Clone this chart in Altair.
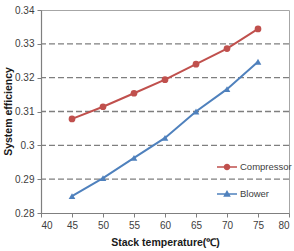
import altair as alt
import pandas as pd

# Stack temperature (deg C) and system efficiency for each cooling option
temps = [45, 50, 55, 60, 65, 70, 75]
compressor = [0.3078, 0.3114, 0.3154, 0.3194, 0.3240, 0.3286, 0.3344]
blower = [0.2850, 0.2903, 0.2963, 0.3022, 0.3100, 0.3166, 0.3247]
series = ["Compressor", "Blower"]
colors = ["#C0504D", "#4F81BD"]
grid_vals = [0.29, 0.30, 0.31, 0.32, 0.33]
y_ticks = [0.28, 0.29, 0.30, 0.31, 0.32, 0.33, 0.34]
x_ticks = [40, 45, 50, 55, 60, 65, 70, 75, 80]

rows = []
for t, c, b in zip(temps, compressor, blower):
    rows.append({"temp": t, "eff": c, "series": "Compressor"})
    rows.append({"temp": t, "eff": b, "series": "Blower"})
df = pd.DataFrame(rows)

FONT = "Liberation Sans"

x_enc = alt.X(
    "temp:Q",
    scale=alt.Scale(domain=[40, 80], nice=False, zero=False),
    axis=alt.Axis(
        values=x_ticks, format="d", title="Stack temperature(℃)",
        grid=False, tickSize=4, labelPadding=3, titlePadding=7,
    ),
)
y_enc = alt.Y(
    "eff:Q",
    scale=alt.Scale(domain=[0.28, 0.34], nice=False, zero=False),
    axis=alt.Axis(
        values=y_ticks, format=".2~f", title="System efficiency",
        grid=False, tickSize=4, labelPadding=3,
        titleX=-28, titleY=101,
    ),
)
color_scale = alt.Scale(domain=series, range=colors)

# Dashed horizontal grid between the bottom axis and the top frame
grid = alt.Chart(pd.DataFrame({"eff": grid_vals})).mark_rule(
    color="#7F7F7F", strokeDash=[6, 3], strokeWidth=1.4
).encode(y=y_enc)

lines = alt.Chart(df).mark_line(strokeWidth=2).encode(
    x=x_enc, y=y_enc,
    color=alt.Color("series:N", scale=color_scale, legend=None),
)

points = alt.Chart(df).mark_point(filled=True, opacity=1, size=45).encode(
    x=x_enc, y=y_enc,
    color=alt.Color("series:N", scale=color_scale, legend=None),
    shape=alt.Shape("series:N", scale=alt.Scale(domain=series, range=["circle", "triangle-up"]), legend=None),
)

# Legend symbols: a short line segment with the series marker on it
circle_path = "M-1,-0.07H1V0.07H-1Z M0.33,0A0.33,0.33 0 1,1 -0.33,0A0.33,0.33 0 1,1 0.33,0Z"
tri_path = "M-1,-0.07H1V0.07H-1Z M0,-0.4L0.38,0.28L-0.38,0.28Z"

legend_opts = dict(
    title=None, orient="none", legendX=175, legendY=146,
    symbolSize=400, rowPadding=11, labelOffset=2, padding=0,
    labelFont=FONT, labelFontSize=9.5, labelColor="#404040",
)

legend_layer = alt.Chart(df).transform_filter("false").mark_point(filled=True, opacity=1).encode(
    x=x_enc, y=y_enc,
    color=alt.Color("series:N", scale=color_scale, legend=alt.Legend(**legend_opts)),
    shape=alt.Shape(
        "series:N",
        scale=alt.Scale(domain=series, range=[circle_path, tri_path]),
        legend=alt.Legend(**legend_opts),
    ),
)

chart = (
    alt.layer(grid, lines, points, legend_layer)
    .resolve_scale(shape="independent")
    .resolve_legend(color="independent", shape="independent")
    .properties(
        width=248, height=203,
        autosize=alt.AutoSizeParams(type="none"),
        padding={"left": 41, "top": 10, "right": 5, "bottom": 38},
        background="white",
    )
    .configure_view(stroke="#A6A6A6", strokeWidth=1)
    .configure_axis(
        domainColor="#7F7F7F", tickColor="#7F7F7F", domainWidth=1.2,
        labelFont=FONT, labelFontSize=10, labelColor="#404040",
        titleFont=FONT, titleFontSize=10.5, titleFontWeight="bold", titleColor="#1A1A1A",
    )
)

chart.save("out.html", embed_options={"renderer": "svg", "actions": False})
